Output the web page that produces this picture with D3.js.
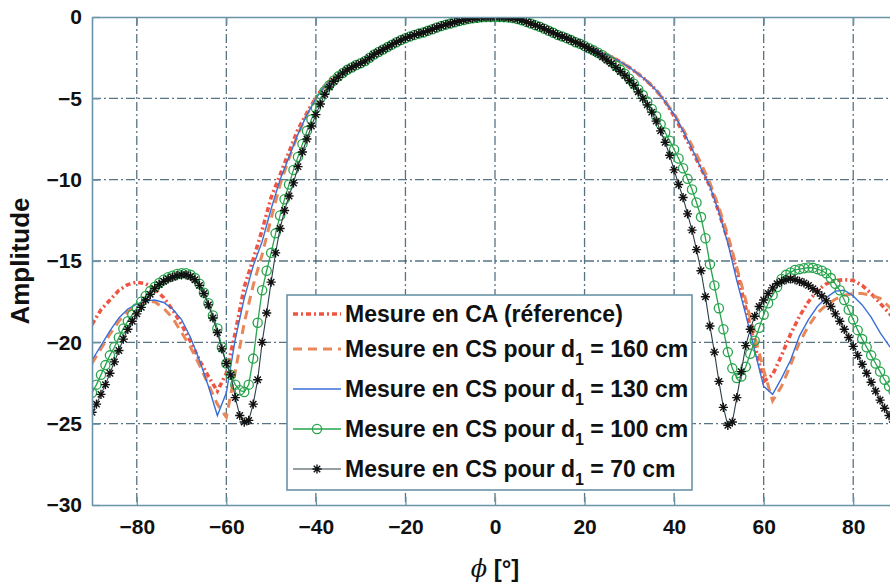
<!DOCTYPE html>
<html>
<head>
<meta charset="utf-8">
<script src="https://cdn.jsdelivr.net/npm/d3@7"></script>
<style>
  html, body { margin: 0; padding: 0; background: #fff; }
  svg text { font-family: "Liberation Sans", Arial, sans-serif; font-weight: bold; fill: #111; }
</style>
</head>
<body>
<div id="chart"></div>
<script>
// angles (deg): coarse grid for the three plain curves, fine grid for the marker curves
const phiCoarse = d3.range(-90, 91, 2);
const phiFine = d3.range(-90, 91, 1);

const xTicks = [-80, -60, -40, -20, 0, 20, 40, 60, 80];
const yTicks = [0, -5, -10, -15, -20, -25, -30];

// Mesure en CA (réference), step 2 deg
const mesureCA = [
  -18.9, -18.0, -17.4, -16.8, -16.45, -16.3, -16.4, -16.7, -17.25, -18.0,
  -18.9, -19.95, -21.1, -22.1, -23.0, -21.9, -19.4, -16.6, -14.9, -13.1,
  -11.1, -9.7, -8.3, -6.9, -5.9, -4.95, -4.2, -3.75, -3.4, -3.1,
  -2.85, -2.5, -2.15, -1.85, -1.55, -1.3, -1.1, -0.95, -0.75, -0.55,
  -0.4, -0.25, -0.12, -0.05, 0, 0, -0.01, -0.06, -0.2, -0.4,
  -0.6, -0.85, -1.1, -1.3, -1.55, -1.75, -1.95, -2.2, -2.45, -2.75,
  -3.1, -3.5, -3.95, -4.5, -5.2, -6.1, -7.1, -8.2, -9.3, -10.4,
  -12.0, -13.7, -15.6, -17.9, -20.2, -22.4, -22.0, -20.8, -19.5, -18.4,
  -17.5, -16.8, -16.4, -16.2, -16.15, -16.2, -16.5, -17.0, -17.6, -18.2,
  -18.8
];

// Mesure en CS, d1 = 160 cm, step 2 deg
const mesureCS160 = [
  -21.3, -20.4, -19.5, -18.7, -18.1, -17.7, -17.5, -17.5, -17.9, -18.5,
  -19.4, -20.3, -21.4, -22.6, -23.8, -24.6, -21.8, -18.8, -16.5, -14.6,
  -12.4, -10.3, -8.7, -7.2, -6.0, -5.0, -4.25, -3.8, -3.4, -3.1,
  -2.85, -2.5, -2.15, -1.85, -1.55, -1.3, -1.1, -0.95, -0.75, -0.55,
  -0.4, -0.25, -0.12, -0.05, 0, 0, -0.01, -0.06, -0.2, -0.4,
  -0.6, -0.85, -1.1, -1.3, -1.55, -1.75, -1.95, -2.2, -2.45, -2.75,
  -3.1, -3.5, -3.95, -4.5, -5.2, -5.95, -6.9, -7.9, -9.0, -10.2,
  -11.7, -13.4, -15.4, -17.4, -19.6, -21.7, -23.6, -22.7, -21.4, -20.0,
  -19.0, -18.2, -17.7, -17.35, -17.1, -17.0, -17.0, -17.1, -17.3, -17.8,
  -18.3
];

// Mesure en CS, d1 = 130 cm, step 2 deg
const mesureCS130 = [
  -21.1, -20.2, -19.3, -18.5, -17.95, -17.65, -17.45, -17.4, -17.55, -17.95,
  -18.6, -19.7, -21.1, -22.7, -24.5, -23.1, -19.8, -17.3, -15.3, -13.8,
  -11.8, -10.0, -8.6, -7.2, -6.0, -5.0, -4.25, -3.8, -3.4, -3.1,
  -2.85, -2.5, -2.15, -1.85, -1.55, -1.3, -1.1, -0.95, -0.75, -0.55,
  -0.4, -0.25, -0.12, -0.05, 0, 0, -0.01, -0.06, -0.2, -0.4,
  -0.6, -0.85, -1.1, -1.3, -1.55, -1.75, -1.95, -2.2, -2.45, -2.75,
  -3.1, -3.5, -3.95, -4.5, -5.2, -6.0, -7.0, -8.1, -9.3, -10.4,
  -12.0, -13.9, -16.2, -18.3, -20.5, -22.7, -23.2, -22.2, -21.1, -19.6,
  -18.6, -17.8, -17.25, -16.85, -16.8, -17.15, -17.7, -18.45, -19.4, -20.2,
  -20.9
];

// Mesure en CS, d1 = 100 cm, step 1 deg
const mesureCS100 = [
  -23.1, -22.6, -22.0, -21.4, -20.8, -20.3, -19.7, -19.15, -18.7, -18.3,
  -17.9, -17.5, -17.15, -16.85, -16.6, -16.35, -16.15, -16.0, -15.9, -15.8,
  -15.75, -15.75, -15.85, -16.05, -16.4, -16.95, -17.6, -18.35, -19.15, -20.3,
  -21.3, -22.0, -22.6, -22.95, -23.05, -22.6, -21.0, -18.8, -16.8, -15.6,
  -14.5, -13.3, -12.2, -11.2, -10.3, -9.4, -8.6, -7.8, -7.0, -6.3,
  -5.6, -5.0, -4.55, -4.2, -3.9, -3.65, -3.45, -3.25, -3.1, -2.95,
  -2.85, -2.7, -2.5, -2.3, -2.15, -2.0, -1.85, -1.7, -1.55, -1.42,
  -1.3, -1.2, -1.1, -1.02, -0.95, -0.85, -0.75, -0.65, -0.55, -0.47,
  -0.4, -0.32, -0.25, -0.18, -0.12, -0.08, -0.05, -0.02, 0, 0,
  0, 0, -0.01, -0.03, -0.06, -0.12, -0.2, -0.3, -0.4, -0.5,
  -0.6, -0.72, -0.85, -0.97, -1.1, -1.2, -1.3, -1.42, -1.55, -1.65,
  -1.78, -1.92, -2.05, -2.2, -2.35, -2.55, -2.75, -3.0, -3.25, -3.5,
  -3.8, -4.1, -4.45, -4.8, -5.2, -5.65, -6.1, -6.6, -7.1, -7.6,
  -8.15, -8.7, -9.3, -9.95, -10.6, -11.4, -12.3, -13.6, -15.2, -16.5,
  -17.9, -19.2, -20.6, -21.6, -22.2, -22.1, -21.5, -20.7, -19.9, -19.1,
  -18.3, -17.6, -17.1, -16.6, -16.1, -15.85, -15.7, -15.55, -15.5, -15.45,
  -15.4, -15.42, -15.5, -15.6, -15.75, -16.05, -16.4, -16.8, -17.4, -18.0,
  -18.6, -19.25, -19.8, -20.3, -20.8, -21.3, -21.8, -22.3, -22.7, -23.0,
  -23.3
];

// Mesure en CS, d1 = 70 cm, step 1 deg
const mesureCS70 = [
  -24.3, -23.8, -23.2, -22.6, -21.9, -21.2, -20.5, -19.8, -19.2, -18.7,
  -18.25, -17.85, -17.4, -17.05, -16.7, -16.45, -16.25, -16.1, -16.0, -15.9,
  -15.85, -15.85, -15.95, -16.15, -16.5, -17.0, -17.7, -18.5, -19.4, -20.4,
  -21.3, -22.0, -23.4, -24.5, -24.9, -24.8, -23.8, -22.3, -20.0, -18.2,
  -16.3, -14.5, -13.0, -11.9, -11.0, -10.2, -9.2, -8.3, -7.5, -6.7,
  -6.0, -5.35, -4.75, -4.3, -3.95, -3.7, -3.45, -3.25, -3.1, -2.95,
  -2.85, -2.7, -2.5, -2.3, -2.15, -2.0, -1.85, -1.7, -1.55, -1.42,
  -1.3, -1.2, -1.1, -1.02, -0.95, -0.85, -0.75, -0.65, -0.55, -0.47,
  -0.4, -0.32, -0.25, -0.18, -0.12, -0.08, -0.05, -0.02, 0, 0,
  0, 0, -0.01, -0.03, -0.06, -0.12, -0.2, -0.3, -0.4, -0.5,
  -0.6, -0.72, -0.85, -0.97, -1.1, -1.2, -1.3, -1.42, -1.55, -1.65,
  -1.8, -1.95, -2.1, -2.25, -2.45, -2.65, -2.85, -3.1, -3.35, -3.6,
  -3.9, -4.2, -4.6, -5.0, -5.4, -5.85, -6.4, -7.0, -7.7, -8.5,
  -9.4, -10.3, -11.1, -12.1, -13.1, -14.3, -15.6, -17.2, -19.0, -20.6,
  -22.4, -24.0, -25.1, -24.9, -23.4, -21.8, -20.2, -19.2, -18.4, -17.8,
  -17.4, -17.0, -16.65, -16.4, -16.25, -16.15, -16.1, -16.15, -16.25, -16.35,
  -16.5, -16.7, -16.9, -17.15, -17.45, -17.8, -18.25, -18.7, -19.2, -19.7,
  -20.25, -20.8, -21.35, -21.9, -22.45, -23.0, -23.55, -24.05, -24.5, -24.9,
  -25.3
];

const seriesNames = [
  { pre: 'Mesure en CA (réference)' },
  { pre: 'Mesure en CS pour d', sub: '1', post: ' = 160 cm' },
  { pre: 'Mesure en CS pour d', sub: '1', post: ' = 130 cm' },
  { pre: 'Mesure en CS pour d', sub: '1', post: ' = 100 cm' },
  { pre: 'Mesure en CS pour d', sub: '1', post: ' = 70 cm' }
];

const W = 890, H = 583;
const plot = { left: 92, top: 17, right: 898, bottom: 505 };
const axisColor = '#6a93a8';

const svg = d3.select('#chart').append('svg')
  .attr('width', W).attr('height', H);

const x = d3.scaleLinear().domain([-90, 90]).range([plot.left, plot.right]);
const y = d3.scaleLinear().domain([-30, 0]).range([plot.bottom, plot.top]);

svg.append('defs').append('clipPath').attr('id', 'clip')
  .append('rect')
  .attr('x', plot.left).attr('y', plot.top)
  .attr('width', plot.right - plot.left).attr('height', plot.bottom - plot.top);

// grid (dash-dot, like MATLAB)
const grid = svg.append('g').attr('class', 'grid');
grid.selectAll('.gx').data(xTicks).join('line')
  .attr('x1', d => x(d)).attr('x2', d => x(d))
  .attr('y1', plot.top).attr('y2', plot.bottom);
grid.selectAll('.gy').data(yTicks.filter(d => d > -30 && d < 0)).join('line')
  .attr('x1', plot.left).attr('x2', plot.right)
  .attr('y1', d => y(d)).attr('y2', d => y(d));
grid.selectAll('line')
  .attr('stroke', '#3b5c6e').attr('stroke-width', 1.3)
  .attr('stroke-dasharray', '9,3,2,3').attr('opacity', 0.85);

// curves
const curves = svg.append('g').attr('clip-path', 'url(#clip)');
const line = d3.line().x(d => x(d[0])).y(d => y(d[1]));

const seriesList = [
  { phi: phiCoarse, val: mesureCA, color: '#ef5543', width: 3.6, dash: '5,3,2,3' },
  { phi: phiCoarse, val: mesureCS160, color: '#e8875a', width: 3, dash: '9,6' },
  { phi: phiCoarse, val: mesureCS130, color: '#3a6fd8', width: 1.4, dash: null },
  { phi: phiFine, val: mesureCS100, color: '#27a44c', width: 1.3, dash: null, marker: 'circle' },
  { phi: phiFine, val: mesureCS70, color: '#111111', width: 1.1, dash: null, marker: 'star', lineColor: '#2c3e48' }
];

const starPath = s => `M${-s},0H${s}M0,${-s}V${s}M${-s * 0.7},${-s * 0.7}L${s * 0.7},${s * 0.7}M${-s * 0.7},${s * 0.7}L${s * 0.7},${-s * 0.7}`;

function drawMarker(g, type, color, cx, cy) {
  if (type === 'circle') {
    g.append('circle').attr('cx', cx).attr('cy', cy).attr('r', 4.6)
      .attr('fill', 'none').attr('stroke', color).attr('stroke-width', 1.3);
  } else if (type === 'star') {
    g.append('path').attr('d', starPath(4.6))
      .attr('transform', `translate(${cx},${cy})`)
      .attr('fill', 'none').attr('stroke', color).attr('stroke-width', 1.4);
  }
}

seriesList.forEach(s => {
  const pts = s.phi.map((p, i) => [p, s.val[i]]);
  curves.append('path').datum(pts)
    .attr('d', line)
    .attr('fill', 'none')
    .attr('stroke', s.lineColor || s.color)
    .attr('stroke-width', s.width)
    .attr('stroke-dasharray', s.dash);
  if (s.marker) {
    const mg = curves.append('g');
    pts.forEach(p => drawMarker(mg, s.marker, s.color, x(p[0]), y(p[1])));
  }
});

// axes box
const xAxis = svg.append('g').attr('transform', `translate(0,${plot.bottom})`)
  .call(d3.axisBottom(x).tickValues(xTicks).tickSizeInner(-8).tickSizeOuter(0).tickPadding(14));
const xAxisTop = svg.append('g').attr('transform', `translate(0,${plot.top})`)
  .call(d3.axisTop(x).tickValues(xTicks).tickSizeInner(-8).tickSizeOuter(0).tickFormat(''));
const yAxis = svg.append('g').attr('transform', `translate(${plot.left},0)`)
  .call(d3.axisLeft(y).tickValues(yTicks).tickSizeInner(-8).tickSizeOuter(0).tickPadding(10));

[xAxis, xAxisTop, yAxis].forEach(a => {
  a.select('.domain').attr('stroke', axisColor).attr('stroke-width', 1.6);
  a.selectAll('.tick line').attr('stroke', axisColor).attr('stroke-width', 1.3);
  a.selectAll('.tick text').attr('font-size', 21).attr('fill', '#111')
    .attr('font-family', '"Liberation Sans", Arial, sans-serif').attr('font-weight', 'bold');
});

// axis labels
svg.append('text')
  .attr('transform', `translate(29,${(plot.top + plot.bottom) / 2}) rotate(-90)`)
  .attr('text-anchor', 'middle')
  .attr('font-size', 26)
  .text('Amplitude');

const xl = svg.append('text')
  .attr('x', x(0)).attr('y', 577)
  .attr('text-anchor', 'middle')
  .attr('font-size', 24);
xl.append('tspan').attr('font-family', '"DejaVu Serif", serif').attr('font-style', 'italic')
  .attr('font-weight', 'normal').text('ϕ');
xl.append('tspan').text(' [°]');

// legend
const lg = svg.append('g');
lg.append('rect')
  .attr('x', 287).attr('y', 295).attr('width', 405).attr('height', 195)
  .attr('fill', '#fff').attr('stroke', axisColor).attr('stroke-width', 1.6);

seriesList.forEach((s, i) => {
  const cy = i === 0 ? 314 : 349 + (i - 1) * 40;
  lg.append('line')
    .attr('x1', 293).attr('x2', 341).attr('y1', cy).attr('y2', cy)
    .attr('stroke', s.lineColor || s.color)
    .attr('stroke-width', s.width)
    .attr('stroke-dasharray', s.dash);
  if (s.marker) drawMarker(lg, s.marker, s.color, 317, cy);
  const n = seriesNames[i];
  const t = lg.append('text')
    .attr('x', 345).attr('y', cy).attr('dy', '0.36em')
    .attr('font-size', 23);
  t.append('tspan').text(n.pre);
  if (n.sub) {
    t.append('tspan').attr('font-size', 16).attr('dy', 8).text(n.sub);
    t.append('tspan').attr('dy', -8).text(n.post);
  }
});
</script>
</body>
</html>
